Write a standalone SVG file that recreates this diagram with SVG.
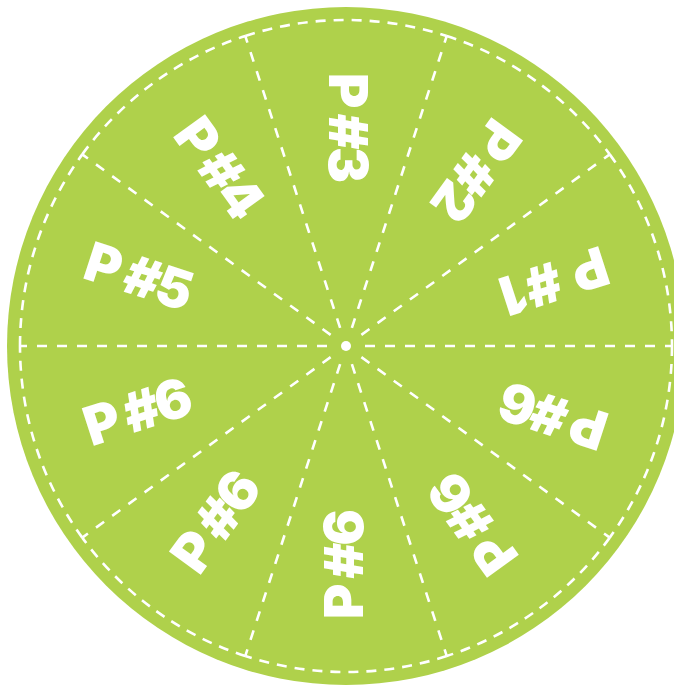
<svg xmlns="http://www.w3.org/2000/svg" width="674" height="685" viewBox="0 0 674 685">
<style>
.disc{fill:#AFD14B}
.dash{fill:none;stroke:#fff;stroke-width:2.6}
.spoke{stroke-dasharray:10 10;stroke-dashoffset:3}
.rim{stroke-dasharray:10 8}
.lbl{font-family:Inter,"Open Sans","Liberation Sans",sans-serif;font-weight:900;font-size:54px;fill:#fff;text-anchor:middle}
</style>
<rect width="674" height="685" fill="#fff"/>
<g id="wheel">
<circle class="disc" cx="346" cy="346" r="339"/>
</g>
<g id="connectors">
<g class="dash rim">
<path d="M326 0A326 326 0 0 1 263.74 191.62" transform="translate(346 346) rotate(0)"/>
<path d="M326 0A326 326 0 0 1 263.74 191.62" transform="translate(346 346) rotate(36)"/>
<path d="M326 0A326 326 0 0 1 263.74 191.62" transform="translate(346 346) rotate(72)"/>
<path d="M326 0A326 326 0 0 1 263.74 191.62" transform="translate(346 346) rotate(108)"/>
<path d="M326 0A326 326 0 0 1 263.74 191.62" transform="translate(346 346) rotate(144)"/>
<path d="M326 0A326 326 0 0 1 263.74 191.62" transform="translate(346 346) rotate(180)"/>
<path d="M326 0A326 326 0 0 1 263.74 191.62" transform="translate(346 346) rotate(216)"/>
<path d="M326 0A326 326 0 0 1 263.74 191.62" transform="translate(346 346) rotate(252)"/>
<path d="M326 0A326 326 0 0 1 263.74 191.62" transform="translate(346 346) rotate(288)"/>
<path d="M326 0A326 326 0 0 1 263.74 191.62" transform="translate(346 346) rotate(324)"/>
</g>
<g class="dash spoke">
<line x1="326" y1="0" x2="16" y2="0" transform="translate(346 346) rotate(0)"/>
<line x1="326" y1="0" x2="16" y2="0" transform="translate(346 346) rotate(36)"/>
<line x1="326" y1="0" x2="16" y2="0" transform="translate(346 346) rotate(72)"/>
<line x1="326" y1="0" x2="16" y2="0" transform="translate(346 346) rotate(108)"/>
<line x1="326" y1="0" x2="16" y2="0" transform="translate(346 346) rotate(144)"/>
<line x1="326" y1="0" x2="16" y2="0" transform="translate(346 346) rotate(180)"/>
<line x1="326" y1="0" x2="16" y2="0" transform="translate(346 346) rotate(216)"/>
<line x1="326" y1="0" x2="16" y2="0" transform="translate(346 346) rotate(252)"/>
<line x1="326" y1="0" x2="16" y2="0" transform="translate(346 346) rotate(288)"/>
<line x1="326" y1="0" x2="16" y2="0" transform="translate(346 346) rotate(324)"/>
</g>
<circle cx="346" cy="346" r="5" fill="#fff"/>
</g>
<g id="p1" transform="translate(346 346) rotate(-18) translate(218 0) rotate(180)"><text class="lbl" x="0" y="17" textLength="110" lengthAdjust="spacing">P #1</text></g>
<g id="p2" transform="translate(346 346) rotate(-54) translate(218 0) rotate(180)"><text class="lbl" x="0" y="17" textLength="110" lengthAdjust="spacing">P #2</text></g>
<g id="p3" transform="translate(346 346) rotate(-90) translate(218 0) rotate(180)"><text class="lbl" x="0" y="17" textLength="110" lengthAdjust="spacing">P #3</text></g>
<g id="p4" transform="translate(346 346) rotate(-126) translate(218 0) rotate(180)"><text class="lbl" x="0" y="17" textLength="110" lengthAdjust="spacing">P #4</text></g>
<g id="p5" transform="translate(346 346) rotate(-162) translate(218 0) rotate(180)"><text class="lbl" x="0" y="17" textLength="110" lengthAdjust="spacing">P #5</text></g>
<g id="p6a" transform="translate(346 346) rotate(162) translate(218 0) rotate(180)"><text class="lbl" x="0" y="17" textLength="110" lengthAdjust="spacing">P #6</text></g>
<g id="p6b" transform="translate(346 346) rotate(126) translate(218 0) rotate(180)"><text class="lbl" x="0" y="17" textLength="110" lengthAdjust="spacing">P #6</text></g>
<g id="p6c" transform="translate(346 346) rotate(90) translate(218 0) rotate(180)"><text class="lbl" x="0" y="17" textLength="110" lengthAdjust="spacing">P #6</text></g>
<g id="p6d" transform="translate(346 346) rotate(54) translate(218 0) rotate(180)"><text class="lbl" x="0" y="17" textLength="110" lengthAdjust="spacing">P #6</text></g>
<g id="p6e" transform="translate(346 346) rotate(18) translate(218 0) rotate(180)"><text class="lbl" x="0" y="17" textLength="110" lengthAdjust="spacing">P #6</text></g>
</svg>
